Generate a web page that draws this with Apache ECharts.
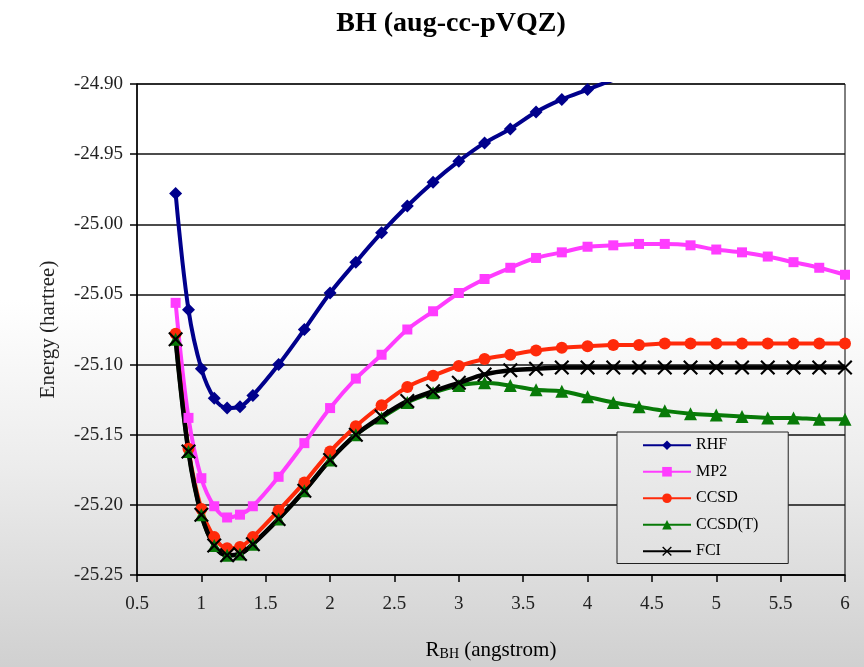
<!DOCTYPE html>
<html>
<head>
<meta charset="utf-8">
<script src="https://cdn.jsdelivr.net/npm/echarts@6/dist/echarts.min.js"></script>
<style>html,body{margin:0;padding:0;background:#fff}#c{width:864px;height:667px}</style>
</head>
<body>
<div id="c"></div>
<script>
// Bond lengths (angstrom)
var R = [0.8, 0.9, 1.0, 1.1, 1.2, 1.3, 1.4, 1.6, 1.8, 2.0, 2.2, 2.4, 2.6, 2.8, 3.0, 3.2, 3.4, 3.6, 3.8, 4.0, 4.2, 4.4, 4.6, 4.8, 5.0, 5.2, 5.4, 5.6, 5.8, 6.0];
var RHF = [-24.978, -25.061, -25.103, -25.124, -25.131, -25.130, -25.122, -25.100, -25.075, -25.049, -25.027, -25.006, -24.987, -24.970, -24.955, -24.942, -24.932, -24.920, -24.911, -24.904, -24.897, -24.891, null, null, null, null, null, null, null, null];
var MP2 = [-25.056, -25.138, -25.181, -25.201, -25.209, -25.207, -25.201, -25.180, -25.156, -25.131, -25.110, -25.093, -25.075, -25.062, -25.049, -25.039, -25.031, -25.024, -25.020, -25.016, -25.015, -25.014, -25.014, -25.015, -25.018, -25.020, -25.023, -25.027, -25.031, -25.036];
var CCSD = [-25.078, -25.160, -25.203, -25.223, -25.231, -25.230, -25.223, -25.204, -25.184, -25.162, -25.144, -25.129, -25.116, -25.108, -25.101, -25.096, -25.093, -25.090, -25.088, -25.087, -25.086, -25.086, -25.085, -25.085, -25.085, -25.085, -25.085, -25.085, -25.085, -25.085];
var CCSDT = [-25.082, -25.162, -25.207, -25.229, -25.236, -25.235, -25.228, -25.210, -25.190, -25.168, -25.150, -25.138, -25.127, -25.120, -25.115, -25.113, -25.115, -25.118, -25.119, -25.123, -25.127, -25.130, -25.133, -25.135, -25.136, -25.137, -25.138, -25.138, -25.139, -25.139];
var FCI = [-25.082, -25.162, -25.207, -25.229, -25.236, -25.235, -25.228, -25.210, -25.190, -25.168, -25.150, -25.137, -25.126, -25.119, -25.113, -25.107, -25.104, -25.103, -25.102, -25.102, -25.102, -25.102, -25.102, -25.102, -25.102, -25.102, -25.102, -25.102, -25.102, -25.102];
var xTicks = {min: 0.5, max: 6, interval: 0.5};
var yTicks = {min: -25.25, max: -24.90, interval: 0.05};
var seriesNames = ['RHF', 'MP2', 'CCSD', 'CCSD(T)', 'FCI'];

function pairs(arr) { return R.map(function (x, i) { return [x, arr[i]]; }); }
var FONT = '"Liberation Serif", "DejaVu Serif", serif';
var XPATH = 'path://M0,1 L1,0 L5,4 L9,0 L10,1 L6,5 L10,9 L9,10 L5,6 L1,10 L0,9 L4,5 Z';

function mk(name, data, color, symbol, size, width) {
  return {
    name: name, type: 'line', data: pairs(data), smooth: 0.35,
    symbol: symbol, symbolSize: size, showSymbol: true,
    lineStyle: {color: color, width: width},
    itemStyle: {color: color, borderWidth: 0},
    emphasis: {disabled: true}, clip: true, connectNulls: false
  };
}

var chart = echarts.init(document.getElementById('c'), null, {renderer: 'canvas'});
chart.setOption({
  animation: false,
  backgroundColor: {type: 'linear', x: 0, y: 0, x2: 0, y2: 1, colorStops: [
    {offset: 0, color: '#ffffff'}, {offset: 0.45, color: '#ffffff'},
    {offset: 0.7, color: '#ececec'}, {offset: 1, color: '#d0d0d0'}]},
  graphic: [{
    type: 'text', x: 451, y: 10,
    style: {text: 'BH (aug-cc-pVQZ)', font: 'bold 28px ' + FONT, fill: '#000', textAlign: 'center', textVerticalAlign: 'top'}
  }],
  grid: {left: 137, right: 19, top: 84, bottom: 92, show: true, borderColor: '#000', borderWidth: 1, backgroundColor: 'transparent'},
  legend: {
    orient: 'vertical', left: 617, top: 432,
    itemWidth: 48, itemHeight: 12, itemGap: 10,
    padding: [5, 30, 4, 25],
    backgroundColor: {type: 'linear', x: 0, y: 0, x2: 0, y2: 1, colorStops: [
      {offset: 0, color: '#eeeeee'}, {offset: 1, color: '#e0e0e0'}]},
    borderColor: '#222', borderWidth: 1, borderRadius: 0,
    textStyle: {fontFamily: FONT, fontSize: 16, color: '#000', lineHeight: 16.5},
    data: seriesNames
  },
  xAxis: {
    type: 'value', min: xTicks.min, max: xTicks.max, interval: xTicks.interval,
    name: '{a|R}{s|BH}{a| (angstrom)}', nameLocation: 'middle', nameGap: 62,
    nameTextStyle: {rich: {
      a: {fontFamily: FONT, fontSize: 21, color: '#000', lineHeight: 24, verticalAlign: 'bottom'},
      s: {fontFamily: FONT, fontSize: 14, color: '#000', lineHeight: 20, verticalAlign: 'bottom'}}},
    axisLine: {show: true, lineStyle: {color: '#000', width: 1.5}},
    axisTick: {show: true, length: 7, lineStyle: {color: '#000', width: 1.5}},
    axisLabel: {fontFamily: FONT, fontSize: 19, color: '#222', margin: 20},
    splitLine: {show: false}
  },
  yAxis: {
    type: 'value', min: yTicks.min, max: yTicks.max, interval: yTicks.interval,
    name: 'Energy (hartree)', nameLocation: 'middle', nameGap: 78,
    nameTextStyle: {fontFamily: FONT, fontSize: 21, color: '#222'},
    axisLine: {show: true, lineStyle: {color: '#000', width: 1.5}},
    axisTick: {show: true, length: 7, lineStyle: {color: '#000', width: 1.5}},
    axisLabel: {fontFamily: FONT, fontSize: 19, color: '#222', margin: 14,
      formatter: function (v) { return v.toFixed(2); }},
    splitLine: {show: true, lineStyle: {color: '#111', width: 1.5}}
  },
  series: [
    mk('RHF', RHF, '#00008c', 'diamond', 13, 4),
    mk('MP2', MP2, '#ff3cff', 'rect', 10, 4),
    mk('CCSD', CCSD, '#ff2a0a', 'circle', 12, 4),
    mk('CCSD(T)', CCSDT, '#087a08', 'triangle', 13, 4),
    mk('FCI', FCI, '#000000', XPATH, 15, 4.5)
  ]
});
</script>
</body>
</html>
